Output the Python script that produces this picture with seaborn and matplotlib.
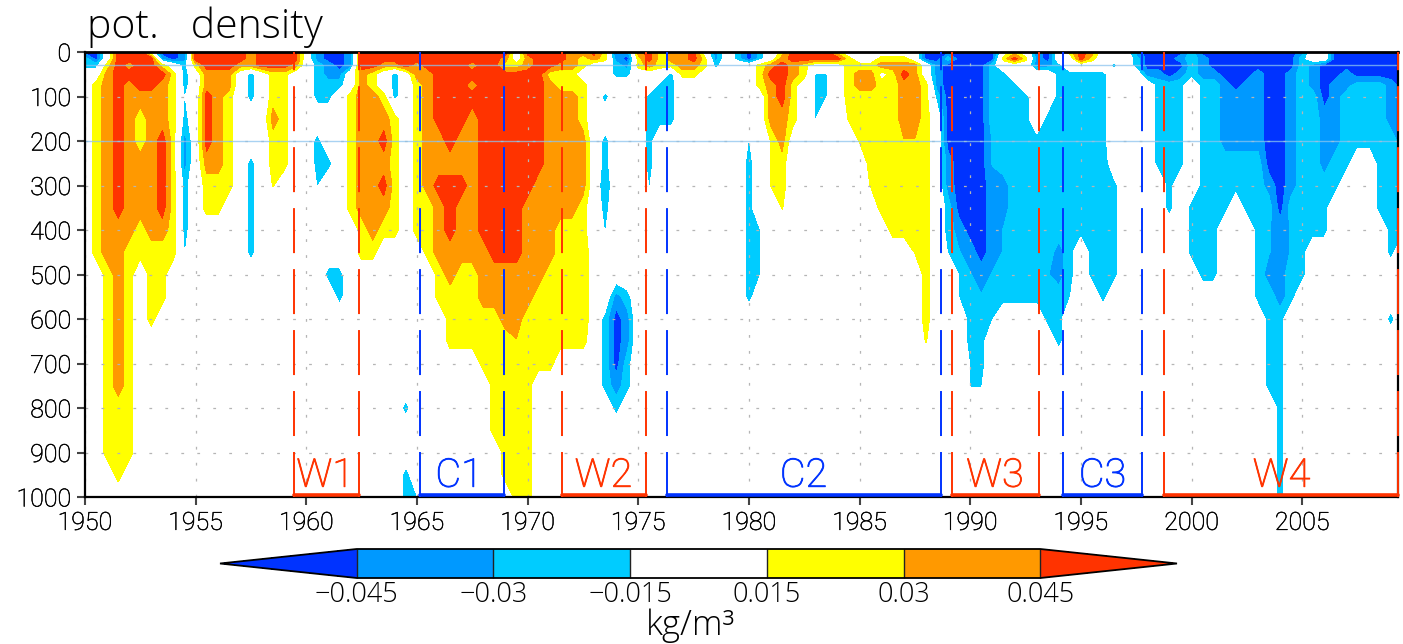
import numpy as np
import matplotlib
matplotlib.use('Agg')
import matplotlib.pyplot as plt
import matplotlib.patheffects as pe
import seaborn as sns

# depth levels (m) of the section
depths = [0, 15, 30, 50, 75, 100, 150, 200, 250, 300, 350, 400, 450, 500, 550, 600, 650, 700, 750, 800, 850, 900, 950, 1000]

# one letter per half year from 1950, blocks of 5 years
rho_0000 = "aa.333.aab 3333323333 .baab33333 333333333. 33332231ab 231223.b.c ac.133331. .c....aaaa aaa.1.ba.1 32...baaaa caaaaaaaaa b..aaaaaaa"
rho_0015 = "ca.3333bab 3333323333 .baab33333 333333332. 23332121ba 1312231b.c ac.2333331 ..111.aaca aaa131ba.. 31...caaab cbaaaaaaaa c..aaaaaaa"
rho_0030 = "cc132331.c 1333223332 .cbab33223 2333323311 233221..cb 1211221c.. .12321...1 112222.baa aac...bbc. ...c.caaaa cbaaaaaaaa cbaaaaaaaa"
rho_0050 = "..2333331c .222.c.11. .cbb.21.c. 2233333333 33111...cc ...c11.... .13321ee.1 22w132.baa aacc....cc ccc...bbab cbbaaabaab cbaabaaaaa"
rho_0075 = ".12323321c .222.c.11. .ccc.21.c. 1233323333 332111.... ..cc...... .1231.ee.1 2211221baa aaccc...cc ccc....ccc .ccbabbaab cbabbcccba"
rho_0100 = ".12322221e .321.c.11. .cc.1221c. 1233333333 332221.c.. .ccc...... ..231.ee.1 1111221caa aacccc..cc ccc....ccc .ccbbbbaab ccabccccbb"
rho_0150 = ".12321221c .321...21. ....12221. 1233323333 332221.... .ccc...... ..221.e..y 1111221.aa aacccc.ccc ccc....ccc .ccbbbbaab ccbbccccbb"
rho_0200 = ".12321231b .321...11. .c..12231. 1223223333 332222.c.. .c........ e.y2...... y111oo1.aa aadccccccc ccc....ccc .ccbbbbaab ccbbcccccb"
rho_0250 = ".12322231b .221.c.11. .cc.12221. 1222223333 332222.c.. .c........ c.y1...... .111111.ba aadccccccc ccd....ccc .ccccccaab ccbcc..ccc"
rho_0300 = ".12322231c .111.c.y.. .e..12231. 1233323333 322222.d.. .e........ c.y1...... .y11111.ba aabbcccccc cccc....c. .ccccccbab cccc...ccc"
rho_0350 = ".12322231c .11..c.... ....12221. 1123223333 222221.c.. .......... c..y...... ..11111.ca aabbcccccc cccc....c. cccc.cccac ccc....ccc"
rho_0400 = ".12221221c .....c.... .....1211. 1123223333 222111.e.. .......... ce........ ...1111.cb aabdcccccc cccc...... ccc...cdbd ccc.....cc"
rho_0450 = ".12211111e .....c.... .....11... .122222333 22211o.... .......... ce........ .....y1.ed babdccccbc .ccc...... ccc...cdbd c.......c."
rho_0500 = "..121.11.. .......... ..cc...... ..12112222 22111o.... .......... ce........ ......1..e dbdccccdbc .ccc...... .cc...cbbc c........."
rho_0550 = "..121.11.. .......... ...c...... ..11112222 21111o..bc .......... c......... ......1..e cdccccccce ..c....... ......ccbc .........."
rho_0600 = "..121.1... .......... .......... ...1111122 11111o.cab .......... .......... ......1... cce....cc. .......... .......cc. ........c."
rho_0650 = "..121..... .......... .......... ...111111o 111111.cab .......... .......... ......y... cc......c. .......... .......cc. .........."
rho_0700 = "..121..... .......... .......... ......1111 111....cac .......... .......... .......... ec........ .......... .......cc. .........."
rho_0750 = "..121..... .......... .......... .......111 1......cbc .......... .......... .......... ee........ .......... .......cc. .........."
rho_0800 = "..111..... .......... .........c .......111 1.......c. .......... .......... .......... .......... .......... ........c. .........."
rho_0850 = "..111..... .......... .......... .......111 1......... .......... .......... .......... .......... .......... ........c. .........."
rho_0900 = "..111..... .......... .......... ........11 1......... .......... .......... .......... .......... .......... ........c. .........."
rho_0950 = "...1...... .......... .........c ........11 1......... .......... .......... .......... .......... .......... ........c. .........."
rho_1000 = ".......... .......... .........c e........1 1......... .......... .......... .......... .......... .......... ........c. .........."
rows = [rho_0000, rho_0015, rho_0030, rho_0050, rho_0075, rho_0100, rho_0150, rho_0200, rho_0250, rho_0300, rho_0350, rho_0400,
        rho_0450, rho_0500, rho_0550, rho_0600, rho_0650, rho_0700, rho_0750, rho_0800, rho_0850, rho_0900, rho_0950, rho_1000]

# letter -> anomaly in kg/m3
code = {'a': -0.052, 'b': -0.037, 'd': -0.029, 'c': -0.022, 'e': -0.016, '.': 0.0, 'w': 0.008,
        'y': 0.016, '1': 0.022, 'o': 0.029, '2': 0.037, '3': 0.052}

levels = [-0.045, -0.03, -0.015, 0.015, 0.03, 0.045]
level_labels = ['\u22120.045', '\u22120.03', '\u22120.015', '0.015', '0.03', '0.045']
colors = ['#0033ff', '#0099ff', '#00ccff', '#ffffff', '#ffff00', '#ff9900', '#ff3300']

# warm and cold periods
periods = ['W1', 'C1', 'W2', 'C2', 'W3', 'C3', 'W4']
starts = [1959.43, 1965.14, 1971.57, 1976.28, 1989.16, 1994.19, 1998.74]
ends = [1962.4, 1968.93, 1975.36, 1988.67, 1993.12, 1997.75, 2009.33]
label_years = [1960.85, 1966.9, 1973.43, 1982.47, 1991.12, 1995.98, 2004.07]
WARM = '#ff3300'
COLD = '#0033ff'

sns.set_theme(style='white')
plt.rcParams['font.family'] = ['Roboto', 'DejaVu Sans']
plt.rcParams['font.weight'] = 'light'
plt.rcParams['lines.scale_dashes'] = False
plt.rcParams['text.color'] = 'black'
plt.rcParams['xtick.color'] = 'black'
plt.rcParams['ytick.color'] = 'black'

W, H = 1403, 644
fig = plt.figure(figsize=(W / 100, H / 100), dpi=100)
ax = fig.add_axes([85 / W, 1 - 497 / H, 1313 / W, 445 / H])

years = 1950 + 0.5 * np.arange(120)
z = np.array([[code[ch] for ch in r.replace(' ', '')] for r in rows])

cf = ax.contourf(years, depths, z, levels=levels, colors=colors, extend='both')

# reference lines across the section
for d in [30, 200]:
    ax.axhline(d, color='#8cc4ee', lw=1, alpha=0.75, zorder=3)

for name, a, b, yl in zip(periods, starts, ends, label_years):
    col = WARM if name[0] == 'W' else COLD
    for yr in [a, b]:
        sns.lineplot(x=[yr, yr], y=[1000, 0], ax=ax, color=col, lw=1.4, estimator=None, sort=False,
                     linestyle=(0, (32.4, 11.5)), zorder=5, clip_on=False)
    sns.lineplot(x=[a, b], y=[996, 996], ax=ax, color=col, lw=2.6, estimator=None, sort=False, zorder=6, clip_on=False)
    t = ax.text(yl, 977, name, color=col, fontsize=28.5, ha='center', va='baseline', zorder=7)
    t.set_path_effects([pe.withStroke(linewidth=0.6, foreground=col)])

ax.set_xlim(1950, 2009.33)
ax.set_ylim(1000, 0)
ax.set_xticks(np.arange(1950, 2006, 5))
ax.set_yticks(np.arange(0, 1001, 100))
ax.tick_params(axis='both', direction='out', length=6, width=1.5, color='#444444', labelsize=18, pad=4, left=True, bottom=True)
ax.grid(True, color='#b5b5b5', lw=0.9, linestyle=(0, (2, 9.5)))
ax.set_axisbelow(False)
for s in ax.spines.values():
    s.set_color('black')
    s.set_linewidth(1.6)
    s.set_zorder(4)
ax.spines['top'].set_linewidth(2)
for t in ax.get_xticklabels() + ax.get_yticklabels():
    t.set_path_effects([pe.withStroke(linewidth=0.35, foreground='black')])

fig.text(87 / W, 1 - 38 / H, 'pot.   density', fontsize=29.5, ha='left', va='baseline', family='Open Sans')

# arrows of the colour bar take 20 % of the inner length on each side
cax = fig.add_axes([220 / W, 1 - 578 / H, 957 / W, 29 / H])
cb = fig.colorbar(cf, cax=cax, orientation='horizontal', extend='both', extendfrac=0.2, drawedges=True, ticks=levels)
cb.ax.set_xticklabels(level_labels, fontsize=19.5, family='Open Sans')
cb.ax.tick_params(length=0, pad=2)
cb.outline.set_edgecolor('black')
cb.outline.set_linewidth(1.3)
cb.dividers.set_color('#222222')
cb.dividers.set_linewidth(1)
fig.text(690 / W, 1 - 635 / H, 'kg/m\u00b3', fontsize=25, ha='center', va='baseline', family='Open Sans')

fig.savefig('out.png', dpi=100)
